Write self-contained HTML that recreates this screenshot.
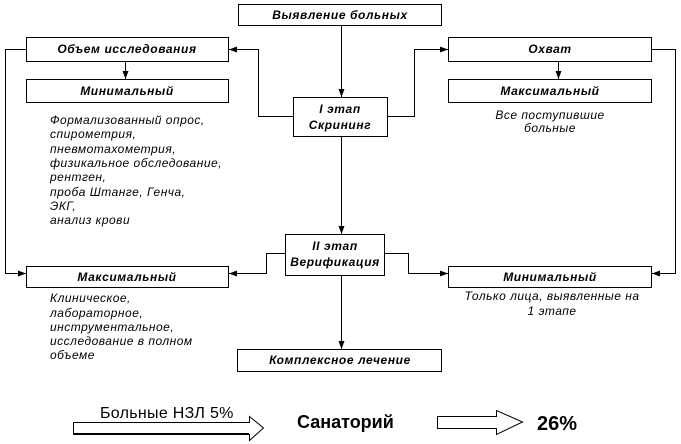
<!DOCTYPE html>
<html><head><meta charset="utf-8"><style>
html,body{margin:0;padding:0;background:#fff;}
svg{display:block;}
text{font-family:"Liberation Sans",sans-serif;}
.t{font-size:12px;font-weight:bold;font-style:italic;letter-spacing:0.6px;}
.s{font-size:12px;font-style:italic;letter-spacing:0.5px;}
</style></head><body>
<svg width="681" height="444" viewBox="0 0 681 444" xmlns="http://www.w3.org/2000/svg">
<defs><marker id="a" markerWidth="8" markerHeight="6" refX="8" refY="3" orient="auto" markerUnits="userSpaceOnUse"><path d="M0,0 L8,3 L0,6 z" fill="#000"/></marker></defs>
<g fill="#fff" stroke="#000" stroke-width="1">
<rect x="238.5" y="4.5" width="203" height="21"/>
<rect x="26.5" y="37.5" width="202" height="24"/>
<rect x="26.5" y="79.5" width="202" height="23"/>
<rect x="293.5" y="97.5" width="94" height="39"/>
<rect x="448.5" y="37.5" width="203" height="24"/>
<rect x="448.5" y="79.5" width="203" height="23"/>
<rect x="285.5" y="234.5" width="99" height="41"/>
<rect x="26.5" y="266.5" width="202" height="21"/>
<rect x="448.5" y="266.5" width="203" height="21"/>
<rect x="237.5" y="349.5" width="204" height="22"/>
</g>
<g fill="none" stroke="#000" stroke-width="1">
<path d="M341.5 25 V97" marker-end="url(#a)"/>
<path d="M341.5 136 V234" marker-end="url(#a)"/>
<path d="M341.5 275 V349" marker-end="url(#a)"/>
<path d="M125.5 61 V79" marker-end="url(#a)"/>
<path d="M558.5 61 V79" marker-end="url(#a)"/>
<path d="M26 49.5 H5.5 V273.5 H26" marker-end="url(#a)"/>
<path d="M651 49.5 H675.5 V273.5 H652" marker-end="url(#a)"/>
<path d="M293 116.5 H258.5 V49.5 H229" marker-end="url(#a)"/>
<path d="M387 116.5 H414.5 V49.5 H448" marker-end="url(#a)"/>
<path d="M285 253.5 H266.5 V273.5 H229" marker-end="url(#a)"/>
<path d="M384 253.5 H408.5 V273.5 H448" marker-end="url(#a)"/>
</g>
<g class="t" text-anchor="middle">
<text x="340" y="19">Выявление больных</text>
<text x="127" y="53">Объем исследования</text>
<text x="127" y="95">Минимальный</text>
<text x="340" y="113">I этап</text>
<text x="340" y="129">Скрининг</text>
<text x="550" y="53">Охват</text>
<text x="550" y="95">Максимальный</text>
<text x="335" y="250">II этап</text>
<text x="335" y="266">Верификация</text>
<text x="127" y="281">Максимальный</text>
<text x="550" y="281">Минимальный</text>
<text x="340" y="364">Комплексное лечение</text>
</g>
<g class="s">
<text x="50" y="124">Формализованный опрос,</text>
<text x="50" y="138">спирометрия,</text>
<text x="50" y="153">пневмотахометрия,</text>
<text x="50" y="167">физикальное обследование,</text>
<text x="50" y="181">рентген,</text>
<text x="50" y="196">проба Штанге, Генча,</text>
<text x="50" y="210">ЭКГ,</text>
<text x="50" y="224">анализ крови</text>
<text x="50" y="302">Клиническое,</text>
<text x="50" y="317">лабораторное,</text>
<text x="50" y="331">инструментальное,</text>
<text x="50" y="345">исследование в полном</text>
<text x="50" y="359">объеме</text>
</g>
<g class="s" text-anchor="middle">
<text x="550" y="119">Все поступившие</text>
<text x="550" y="132">больные</text>
<text x="552" y="300">Только лица, выявленные на</text>
<text x="552" y="315">1 этапе</text>
</g>
<text x="100" y="418" style="font-size:16px;letter-spacing:0.3px;">Больные НЗЛ 5%</text>
<text x="297" y="428" style="font-size:18px;font-weight:bold;">Санаторий</text>
<text x="537" y="430" style="font-size:20px;font-weight:bold;">26%</text>
<path d="M73.5 422.5 H249.5 V416.5 L263.5 428 L249.5 440.5 V434.5 H73.5 Z" fill="#fff" stroke="#000"/>
<path d="M74 434 H249" stroke="#000" stroke-width="2"/>
<path d="M437.5 416.5 H496.5 V410.5 L522.5 422 L496.5 434.5 V428.5 H437.5 Z" fill="#fff" stroke="#000"/>
</svg>
</body></html>
